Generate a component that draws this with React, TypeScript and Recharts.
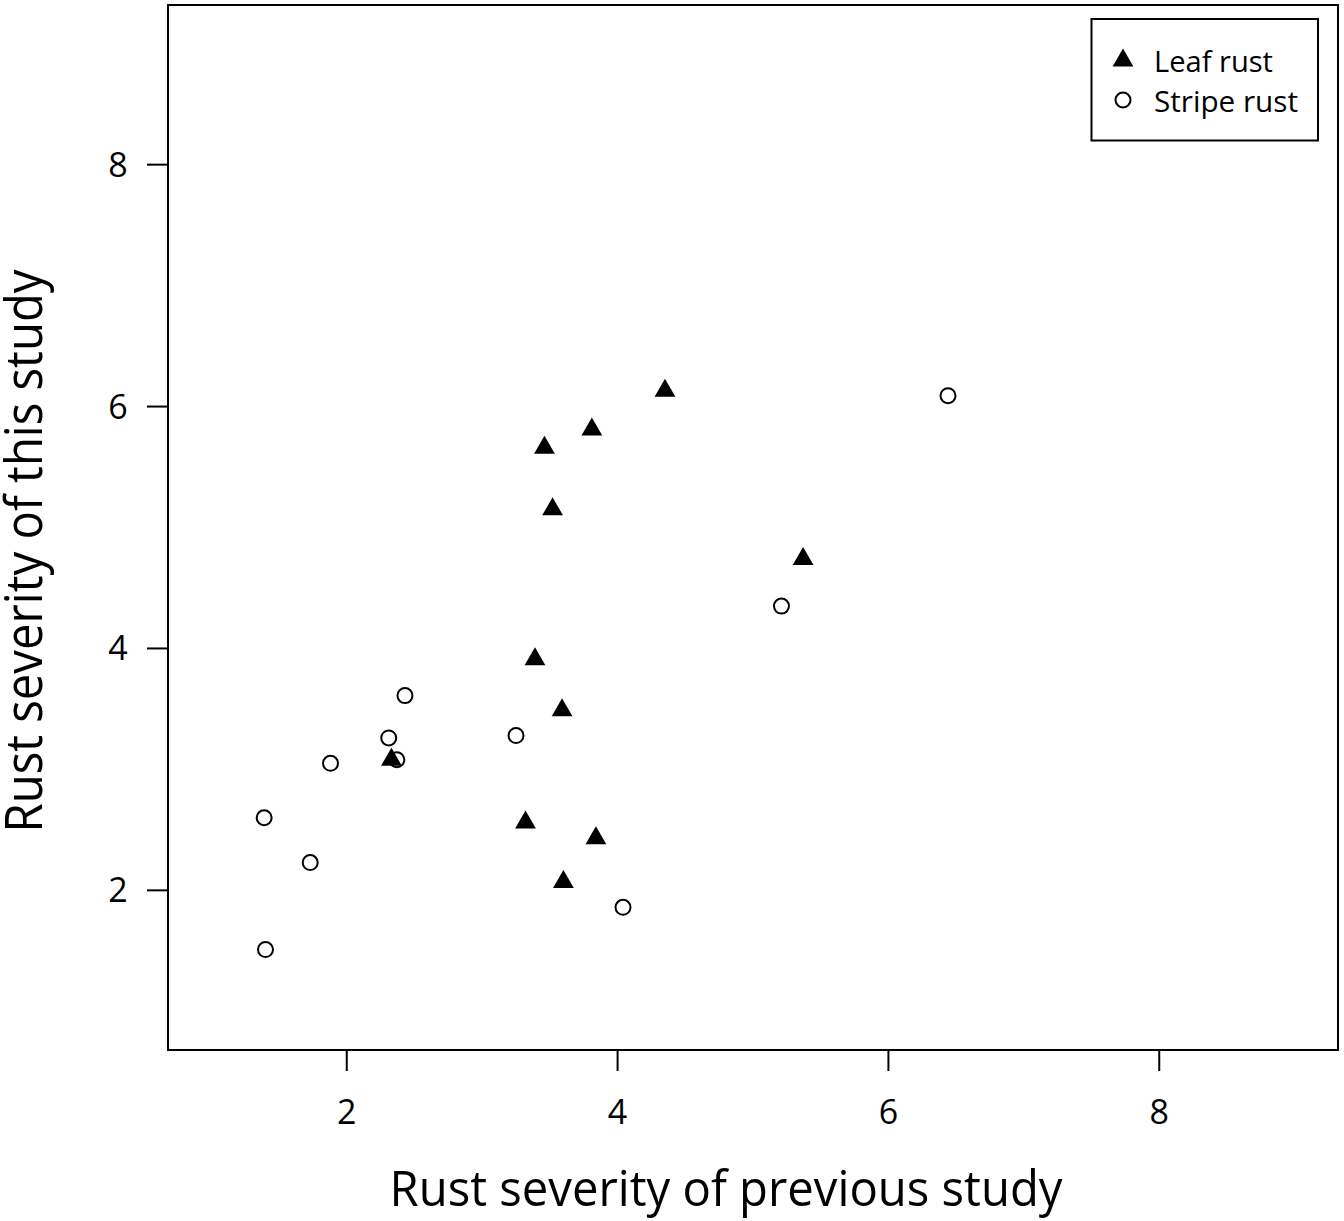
import React from 'react';
import { ScatterChart, Scatter, XAxis, YAxis, ReferenceArea, Legend } from 'recharts';

const xTicks = [2, 4, 6, 8];
const yTicks = [2, 4, 6, 8];
const axisDomain: [number, number] = [0.68, 9.32];

const seriesNames = ['Leaf rust', 'Stripe rust'];
const xTitle = 'Rust severity of previous study';
const yTitle = 'Rust severity of this study';

const leafX = [4.35, 3.81, 3.46, 3.52, 5.37, 3.39, 3.59, 2.33, 3.32, 3.84, 3.60];
const leafY = [6.13, 5.81, 5.66, 5.15, 4.74, 3.91, 3.49, 3.08, 2.56, 2.43, 2.07];

const stripeX = [6.44, 5.21, 2.43, 2.31, 3.25, 1.88, 2.37, 1.39, 1.73, 4.04, 1.40];
const stripeY = [6.09, 4.35, 3.61, 3.26, 3.28, 3.05, 3.08, 2.60, 2.23, 1.86, 1.51];

const leafData = leafX.map((x, i) => ({ x, y: leafY[i] }));
const stripeData = stripeX.map((x, i) => ({ x, y: stripeY[i] }));

const FONT = '"Open Sans", sans-serif';

const TriangleMark = (props: any) => {
  const { cx, cy } = props;
  if (cx == null || cy == null) return null;
  return (
    <polygon
      points={`${cx},${cy - 12} ${cx + 10.4},${cy + 6} ${cx - 10.4},${cy + 6}`}
      fill="#000"
    />
  );
};

const CircleMark = (props: any) => {
  const { cx, cy } = props;
  if (cx == null || cy == null) return null;
  return <circle cx={cx} cy={cy} r={7.5} fill="none" stroke="#000" strokeWidth={2} />;
};

const XTick = (props: any) => {
  const { x, payload } = props;
  return (
    <text x={x} y={1124} textAnchor="middle" fontSize={34} fontFamily={FONT} fill="#000">
      {payload.value}
    </text>
  );
};

const YTick = (props: any) => {
  const { y, payload } = props;
  return (
    <text x={118} y={y + 12} textAnchor="middle" fontSize={34} fontFamily={FONT} fill="#000">
      {payload.value}
    </text>
  );
};

const LegendBox = () => (
  <svg width={230} height={124} style={{ display: 'block' }}>
    <rect x={1.5} y={1} width={226.5} height={121.5} fill="#fff" stroke="#000" strokeWidth={2} />
    <TriangleMark cx={33} cy={42.5} />
    <text x={64} y={54} fontSize={30} fontFamily={FONT} fill="#000" textLength={119} lengthAdjust="spacingAndGlyphs">
      {seriesNames[0]}
    </text>
    <CircleMark cx={33} cy={82} />
    <text x={64} y={94} fontSize={30} fontFamily={FONT} fill="#000" textLength={144} lengthAdjust="spacingAndGlyphs">
      {seriesNames[1]}
    </text>
  </svg>
);

export default function App() {
  return (
    <div style={{ position: 'absolute', left: 0, top: 0, width: 1344, height: 1221, background: '#fff' }}>
      <ScatterChart width={1344} height={1221} margin={{ top: 5, right: 6, bottom: 0, left: 0 }}>
        <XAxis
          dataKey="x"
          type="number"
          domain={axisDomain}
          ticks={xTicks}
          allowDataOverflow
          height={171}
          tickSize={21}
          tickLine={{ stroke: '#000', strokeWidth: 2 }}
          axisLine={false}
          tick={<XTick />}
          label={{
            content: () => (
              <text
                x={726}
                y={1206}
                textAnchor="middle"
                fontSize={50}
                fontFamily={FONT}
                fill="#000"
                textLength={673}
                lengthAdjust="spacingAndGlyphs"
              >
                {xTitle}
              </text>
            ),
          }}
        />
        <YAxis
          dataKey="y"
          type="number"
          domain={axisDomain}
          ticks={yTicks}
          allowDataOverflow
          width={168}
          tickSize={21}
          tickLine={{ stroke: '#000', strokeWidth: 2 }}
          axisLine={false}
          tick={<YTick />}
          label={{
            content: () => (
              <text
                x={42}
                y={551}
                transform="rotate(-90, 42, 551)"
                textAnchor="middle"
                fontSize={51}
                fontFamily={FONT}
                fill="#000"
                textLength={563}
                lengthAdjust="spacingAndGlyphs"
              >
                {yTitle}
              </text>
            ),
          }}
        />
        <ReferenceArea
          x1={axisDomain[0]}
          x2={axisDomain[1]}
          y1={axisDomain[0]}
          y2={axisDomain[1]}
          fill="none"
          fillOpacity={0}
          stroke="#000"
          strokeWidth={2}
          strokeOpacity={1}
        />
        <Scatter name={seriesNames[1]} data={stripeData} shape={<CircleMark />} isAnimationActive={false} />
        <Scatter name={seriesNames[0]} data={leafData} shape={<TriangleMark />} isAnimationActive={false} />
        <Legend
          layout="vertical"
          align="center"
          verticalAlign="middle"
          wrapperStyle={{ position: 'absolute', left: 1090, top: 18, width: 230, height: 124, margin: 0, padding: 0 }}
          content={() => <LegendBox />}
        />
      </ScatterChart>
    </div>
  );
}
